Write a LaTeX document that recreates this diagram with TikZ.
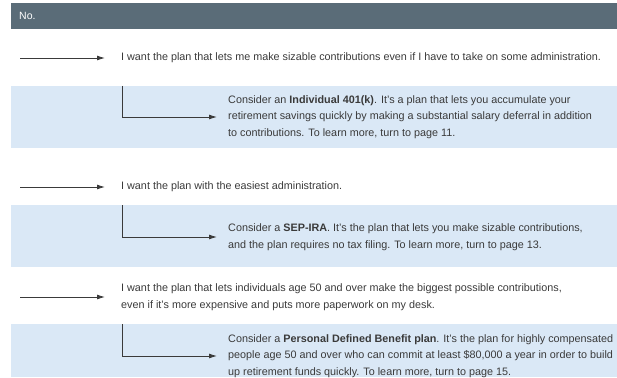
\documentclass[tikz,border=0pt]{standalone}
\usepackage{fontspec}
\setmainfont{Liberation Sans}
\usetikzlibrary{arrows.meta}

\definecolor{headfill}{HTML}{5A6C78}
\definecolor{bandfill}{HTML}{DAE8F6}
\definecolor{ink}{HTML}{3A3A3A}

\tikzset{
  band/.style={fill=bandfill, draw=none},
  choice/.style={anchor=west, inner sep=0pt, align=left, text=ink,
    font=\fontsize{10.8}{16.6}\selectfont},
  pointer/.style={draw=ink, line width=0.9pt,
    -{Latex[length=8pt,width=5pt]}},
}

\begin{document}
\begin{tikzpicture}[x=1pt,y=-1pt]
\useasboundingbox (0,0) rectangle (617,377);

% header bar
\fill[headfill] (11,3) rectangle (617,29);
\node[anchor=west, inner sep=0pt, text=white, font=\fontsize{10.5}{12}\selectfont] (no) at (19,16) {No.};

% shaded recommendation bands
\fill[band] (11,86)  rectangle (617,148);
\fill[band] (11,205) rectangle (617,267);
\fill[band] (11,324) rectangle (617,377);

% wishes
\node[choice] (w1) at (121,58) {I want the plan that lets me make sizable contributions even if I have to take on some administration.};
\node[choice] (w2) at (121,187) {I want the plan with the easiest administration.};
\node[choice] (w3) at (121,297) {I want the plan that lets individuals age 50 and over make the biggest possible contributions,\\even if it’s more expensive and puts more paperwork on my desk.};

% recommendations
\node[choice] (c1) at (228,117) {Consider an \textbf{Individual 401(k)}. It’s a plan that lets you accumulate your\\retirement savings quickly by making a substantial salary deferral in addition\\to contributions. To learn more, turn to page 11.};
\node[choice] (c2) at (228,237) {Consider a \textbf{SEP-IRA}. It’s the plan that lets you make sizable contributions,\\and the plan requires no tax filing. To learn more, turn to page 13.};
\node[choice] (c3) at (228,356) {Consider a \textbf{Personal Defined Benefit plan}. It’s the plan for highly compensated\\people age 50 and over who can commit at least \$80,000 a year in order to build\\up retirement funds quickly. To learn more, turn to page 15.};

% arrow tails
\coordinate (a1) at (20,58);
\coordinate (a2) at (20,187);
\coordinate (a3) at (20,297);
\coordinate (e1) at (122,86);
\coordinate (e2) at (122,205);
\coordinate (e3) at (122,324);

\draw[pointer, shorten >=16pt] (a1) -- (w1.west);
\draw[pointer, shorten >=16pt] (a2) -- (w2.west);
\draw[pointer, shorten >=16pt] (a3) -- (w3.west);

\draw[pointer, shorten >=11pt] (e1) |- (c1.west);
\draw[pointer, shorten >=11pt] (e2) |- (c2.west);
\draw[pointer, shorten >=11pt] (e3) |- (c3.west);
\end{tikzpicture}
\end{document}
